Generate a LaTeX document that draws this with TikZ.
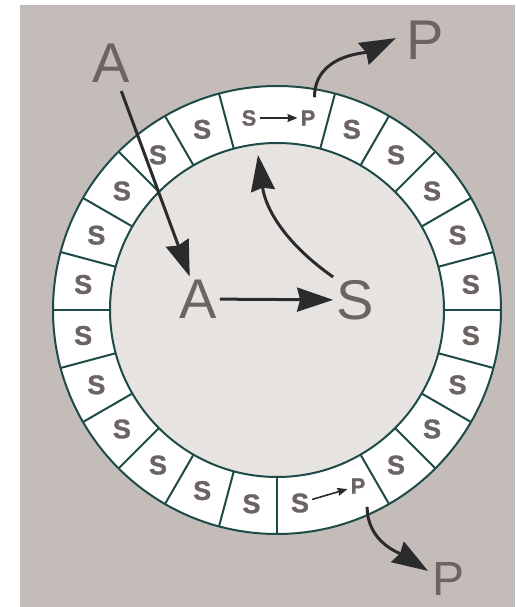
\documentclass[tikz,border=0pt]{standalone}
\usepackage{fontspec}
\setmainfont{Liberation Sans}
\newfontfamily\heavysans{Liberation Sans Bold}[FakeBold=1.2]
\usetikzlibrary{arrows.meta}

\definecolor{bggray}{RGB}{196,188,185}
\definecolor{diskgray}{RGB}{231,227,225}
\definecolor{ringline}{RGB}{30,74,72}
\definecolor{txtgray}{RGB}{108,100,98}
\definecolor{arrowdark}{RGB}{42,43,45}

\begin{document}
\begin{tikzpicture}[x=1pt, y=1pt,
    bigtxt/.style={text=txtgray, inner sep=3pt,
        font=\fontsize{56}{60}\selectfont},
    ringtxt/.style={text=txtgray, inner sep=2pt,
        font=\fontsize{27}{29}\heavysans},
    smalltxt/.style={text=txtgray, inner sep=2pt,
        font=\fontsize{22}{24}\heavysans},
    bigarrow/.style={draw=arrowdark, line width=3pt,
        -{Stealth[length=36pt, width=24pt, inset=3pt]}},
    smallarrow/.style={draw=arrowdark, line width=1.6pt,
        -{Stealth[length=10pt, width=8pt, inset=1pt]},
        shorten <=1pt, shorten >=1pt}
]
\useasboundingbox (-277,-297) rectangle (238,310);
\fill[bggray] (-257,-297) rectangle (238,305);

% cell: ring of 22 compartments round the inner disk
\fill[white] (0,0) circle[radius=224pt];
\fill[diskgray] (0,0) circle[radius=167pt];
\draw[ringline, line width=2pt] (0,0) circle[radius=224pt];
\draw[ringline, line width=2pt] (0,0) circle[radius=167pt];
\foreach \a in {0,15,...,75,105,120,...,270,300,315,330,345}
    \draw[ringline, line width=2pt] (\a:167) -- (\a:224);
\foreach \a [count=\i] in {7.5,22.5,...,67.5,112.5,127.5,...,262.5,307.5,322.5,337.5,352.5}
    \node[ringtxt] (s\i) at (\a:195.5) {S};

% the two compartments that turn S into P
\node[smalltxt] (stop) at (-28,192) {S};
\node[smalltxt] (ptin) at (31,192) {P};
\draw[smallarrow] (stop) -- (ptin);
\node[ringtxt] (sbot) at (23,-193) {S};
\node[smalltxt] (pbin) at (81,-176) {P};
\draw[smallarrow] (sbot) -- (pbin);

% outer and inner labels
\node[bigtxt] (atop) at (-166,247) {A};
\node[bigtxt] (acen) at (-79,11) {A};
\node[bigtxt] (scen) at (78,10) {S};
\node[bigtxt] (ptop) at (148,270) {P};
\node[bigtxt, font=\fontsize{48}{52}\selectfont] (pbot) at (172,-269) {P};
\coordinate (topin) at (-19,155);
\coordinate (topexit) at (80:216);
\coordinate (botexit) at (-65.4:216.6);

% arrows
\draw[bigarrow, shorten <=6pt] (atop) -- (acen);
\draw[bigarrow] (acen) -- (scen);
\draw[bigarrow] (scen.north west) to[out=145, in=-82] (topin);
\draw[bigarrow, shorten >=8pt] (topexit) to[out=90, in=206] (ptop.166);
\draw[bigarrow, shorten >=2pt] (botexit) to[out=-90, in=148] (pbot.160);
\end{tikzpicture}
\end{document}
